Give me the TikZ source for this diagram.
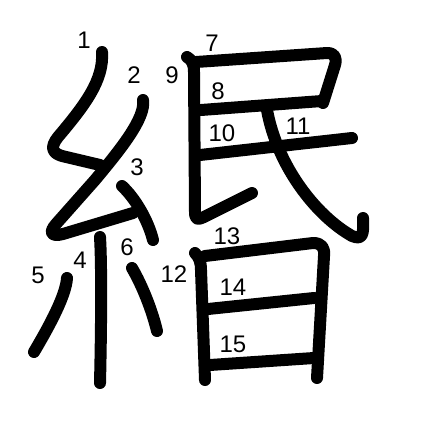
\documentclass[tikz,border=0pt]{standalone}
\usepackage{fontspec}
\setmainfont{Liberation Sans}
\begin{document}
\begin{tikzpicture}[x=1pt,y=-1pt,
  stroke/.style={line width=12pt,line cap=round,line join=round,black},
  num/.style={font=\fontsize{24pt}{24pt}\selectfont,inner sep=0pt}]
\useasboundingbox[fill=white] (0,0) rectangle (447,447);
% 1
\draw[stroke] (102,52) .. controls (104,80) and (85,105) .. (58,137) .. controls (50,147) and (52,153) .. (62,156) -- (100,165);
% 2
\draw[stroke] (143,100) .. controls (146,118) and (120,150) .. (95,180) -- (56,224) .. controls (48,233) and (52,237) .. (63,234) -- (133,213);
% 3
\draw[stroke] (122,186) .. controls (135,198) and (148,220) .. (153,240);
% 4
\draw[stroke] (100,237) .. controls (102,270) and (101,340) .. (100,383);
% 5
\draw[stroke] (67,278) .. controls (66,295) and (50,325) .. (34,352);
% 6
\draw[stroke] (132,268) .. controls (142,285) and (152,310) .. (157,331);
% 7
\draw[stroke] (196,62) -- (327,53) .. controls (335,53) and (337,58) .. (335,65) -- (323,103);
% 8
\draw[stroke] (201,110) -- (322,101);
% 9
\draw[stroke] (187,57) .. controls (192,60) and (194,64) .. (194,72) -- (195,212) .. controls (195,220) and (198,220) .. (204,217) -- (252,193);
% 10
\draw[stroke] (200,155) -- (352,138);
% 11
\draw[stroke] (267,110) .. controls (277,165) and (315,215) .. (352,236) .. controls (362,240) and (364,236) .. (363,218);
% 12
\draw[stroke] (195,253) .. controls (199,257) and (201,262) .. (201,270) -- (205,380);
% 13
\draw[stroke] (205,256) -- (313,243) .. controls (322,243) and (325,248) .. (324,256) -- (317,378);
% 14
\draw[stroke] (208,309) -- (314,298);
% 15
\draw[stroke] (210,365) -- (314,358);
% labels
\node[num] (n1) at (84,40) {1};
\node[num] (n2) at (134,75) {2};
\node[num] (n3) at (137,167) {3};
\node[num] (n4) at (80,260) {4};
\node[num] (n5) at (38,275) {5};
\node[num] (n6) at (127,247) {6};
\node[num] (n7) at (212,43) {7};
\node[num] (n8) at (218,91) {8};
\node[num] (n9) at (172,75) {9};
\node[num] (n10) at (222,133) {10};
\node[num] (n11) at (298,126) {11};
\node[num] (n12) at (174,274) {12};
\node[num] (n13) at (227,236) {13};
\node[num] (n14) at (233,287) {14};
\node[num] (n15) at (233,344) {15};
\end{tikzpicture}
\end{document}
